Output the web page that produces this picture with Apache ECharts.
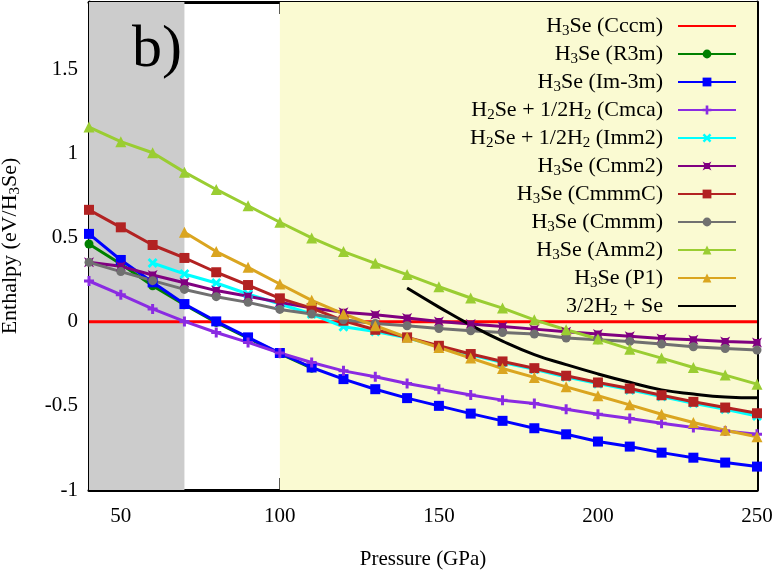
<!DOCTYPE html>
<html>
<head>
<meta charset="utf-8">
<script src="https://cdn.jsdelivr.net/npm/echarts@6/dist/echarts.min.js"></script>
<style>
  html, body { margin: 0; padding: 0; background: #fff; }
  #chartArea { width: 776px; height: 573px; }
</style>
</head>
<body>
<div id="chartArea"></div>
<script>
// pressures (GPa)
let pressure = [40, 50, 60, 70, 80, 90, 100, 110, 120, 130, 140, 150, 160, 170, 180, 190, 200, 210, 220, 230, 240, 250];

// enthalpies (eV/H3Se), null where the phase is not plotted
let cccm = [0, 0, 0, 0, 0, 0, 0, 0, 0, 0, 0, 0, 0, 0, 0, 0, 0, 0, 0, 0, 0, 0];
let r3m = [0.462, 0.343, 0.214, 0.101, -0.004, -0.097, -0.19, -0.276, null, null, null, null, null, null, null, null, null, null, null, null, null, null];
let im3m = [0.522, 0.367, 0.234, 0.105, 0.002, -0.093, -0.186, -0.272, -0.341, -0.401, -0.454, -0.5, -0.546, -0.589, -0.633, -0.669, -0.712, -0.742, -0.778, -0.808, -0.837, -0.861];
let cmca = [0.242, 0.161, 0.076, 0.002, -0.064, -0.123, -0.186, -0.242, -0.292, -0.327, -0.367, -0.401, -0.435, -0.466, -0.486, -0.52, -0.55, -0.575, -0.603, -0.629, -0.649, -0.668];
let imm2 = [null, null, 0.349, 0.284, 0.23, 0.165, 0.105, 0.046, -0.03, -0.058, -0.095, -0.148, -0.197, -0.242, -0.283, -0.328, -0.368, -0.405, -0.445, -0.485, -0.52, -0.56];
let cmm2 = [0.353, 0.329, 0.278, 0.232, 0.185, 0.151, 0.115, 0.081, 0.056, 0.042, 0.022, 0.002, -0.014, -0.028, -0.044, -0.06, -0.073, -0.087, -0.099, -0.107, -0.117, -0.123];
let cmmmC = [0.665, 0.561, 0.456, 0.379, 0.294, 0.218, 0.139, 0.081, 0.006, -0.048, -0.093, -0.143, -0.192, -0.236, -0.276, -0.321, -0.361, -0.397, -0.437, -0.476, -0.51, -0.544];
let cmmm = [0.353, 0.298, 0.244, 0.192, 0.149, 0.115, 0.073, 0.046, 0.012, -0.01, -0.024, -0.04, -0.054, -0.064, -0.073, -0.097, -0.107, -0.117, -0.133, -0.149, -0.159, -0.168];
let amm2 = [1.157, 1.07, 1.004, 0.889, 0.786, 0.689, 0.591, 0.498, 0.417, 0.347, 0.28, 0.208, 0.141, 0.081, 0.011, -0.048, -0.103, -0.163, -0.216, -0.272, -0.317, -0.371];
let p1 = [null, null, null, 0.532, 0.417, 0.323, 0.224, 0.127, 0.046, -0.024, -0.093, -0.153, -0.216, -0.278, -0.331, -0.387, -0.44, -0.494, -0.55, -0.599, -0.645, -0.683];

// 3/2H2 + Se reference curve
let elemPressure = [140, 150, 160, 170, 180, 190, 200, 210, 220, 230, 240, 250];
let elem = [0.2, 0.087, -0.02, -0.115, -0.195, -0.255, -0.31, -0.36, -0.405, -0.43, -0.447, -0.452];

let xTicks = [50, 100, 150, 200, 250];
let yTicks = [-1, -0.5, 0, 0.5, 1, 1.5];
let shadeGray = [40, 70];
let shadeYellow = [100, 250];

let serif = '"Liberation Serif", "DejaVu Serif", serif';
let plusPath = 'path://M3.5,0H6.5V3.5H10V6.5H6.5V10H3.5V6.5H0V3.5H3.5Z';
let crossPath = 'path://M0,2L2,0L5,3L8,0L10,2L7,5L10,8L8,10L5,7L2,10L0,8L3,5Z';
let starPath = 'path://M0,0L3,1.5H7L10,0L8.5,3V7L10,10L7,8.5H3L0,10L1.5,7V3Z';

function pairs(xs, ys) {
    let res = [];
    for (let i = 0; i < xs.length; i++) {
        if (ys[i] !== null) res.push([xs[i], ys[i]]);
    }
    return res;
}

function subText(name) {
    return '{n|' + name.replace(/H(\d)/g, 'H}{s|$1}{n|') + '}';
}

let richStyle = {
    n: {fontFamily: serif, fontSize: 22, color: '#000', lineHeight: 26},
    s: {fontFamily: serif, fontSize: 15, color: '#000', lineHeight: 14, verticalAlign: 'bottom'}
};

function mkSeries(name, ys, color, symbol, size) {
    return {
        name: name,
        type: 'line',
        data: pairs(pressure, ys),
        symbol: symbol,
        symbolSize: size,
        showAllSymbol: true,
        lineStyle: {color: color, width: 3},
        itemStyle: {color: color},
        emphasis: {disabled: true}
    };
}

let myChart = echarts.init(document.getElementById('chartArea'));

let series = [
    {
        name: 'H3Se (Cccm)',
        type: 'line',
        data: pairs(pressure, cccm),
        symbol: 'none',
        lineStyle: {color: '#ff0000', width: 3},
        itemStyle: {color: '#ff0000'},
        markArea: {
            silent: true,
            data: [
                [{xAxis: shadeGray[0], itemStyle: {color: '#cccccc'}}, {xAxis: shadeGray[1]}],
                [{xAxis: shadeYellow[0], itemStyle: {color: '#fafad2'}}, {xAxis: shadeYellow[1]}]
            ]
        }
    },
    mkSeries('H3Se (R3m)', r3m, '#008000', 'circle', 9),
    mkSeries('H3Se (Im-3m)', im3m, '#0000ff', 'rect', 10),
    mkSeries('H2Se + 1/2H2 (Cmca)', cmca, '#8a2be2', plusPath, 10),
    mkSeries('H2Se + 1/2H2 (Imm2)', imm2, '#00ffff', crossPath, 10),
    mkSeries('H3Se (Cmm2)', cmm2, '#800080', starPath, 10),
    mkSeries('H3Se (CmmmC)', cmmmC, '#b22222', 'rect', 10),
    mkSeries('H3Se (Cmmm)', cmmm, '#707070', 'circle', 9),
    mkSeries('H3Se (Amm2)', amm2, '#9acd32', 'triangle', 11),
    mkSeries('H3Se (P1)', p1, '#daa520', 'triangle', 11),
    {
        name: '3/2H2 + Se',
        type: 'line',
        data: pairs(elemPressure, elem),
        symbol: 'none',
        smooth: true,
        lineStyle: {color: '#000', width: 3},
        itemStyle: {color: '#000'}
    }
];

let axisBase = {
    axisLine: {show: true, onZero: false, lineStyle: {color: '#000', width: 3}},
    splitLine: {show: false}
};

let option = {
    animation: false,
    grid: {left: 89, right: 19, top: 2, bottom: 83, outerBoundsMode: 'none'},
    legend: {
        orient: 'vertical',
        right: 34,
        top: 10,
        align: 'right',
        itemWidth: 58,
        itemHeight: 11,
        itemGap: 4,
        selectedMode: false,
        data: series.map(function (s) {
            let item = {name: s.name};
            if (s.symbol === 'none') item.itemStyle = {opacity: 0};
            return item;
        }),
        formatter: subText,
        textStyle: {padding: [1, 10, 1, 0], rich: richStyle}
    },
    xAxis: [
        Object.assign({
            type: 'value', min: 40, max: 250, position: 'bottom',
            name: 'Pressure (GPa)', nameLocation: 'middle', nameGap: 59,
            nameTextStyle: {fontFamily: serif, fontSize: 21, color: '#000'},
            axisTick: {inside: true, length: 12, customValues: xTicks, lineStyle: {color: '#000', width: 2.5}},
            axisLabel: {customValues: xTicks, margin: 16, fontFamily: serif, fontSize: 21, color: '#000'}
        }, axisBase),
        Object.assign({
            type: 'value', min: 40, max: 250, position: 'top',
            axisTick: {inside: true, length: 12, customValues: xTicks, lineStyle: {color: '#000', width: 2.5}},
            axisLabel: {show: false}
        }, axisBase)
    ],
    yAxis: [
        Object.assign({
            type: 'value', min: -1, max: 1.9, position: 'left',
            name: subText('Enthalpy (eV/H3Se)'), nameLocation: 'middle', nameGap: 66, nameRotate: 90,
            nameTextStyle: {rich: richStyle},
            axisTick: {inside: true, length: 12, customValues: yTicks, lineStyle: {color: '#000', width: 2.5}},
            axisLabel: {customValues: yTicks, margin: 11, fontFamily: serif, fontSize: 21, color: '#000'}
        }, axisBase),
        Object.assign({
            type: 'value', min: -1, max: 1.9, position: 'right',
            axisTick: {inside: true, length: 12, customValues: yTicks, lineStyle: {color: '#000', width: 2.5}},
            axisLabel: {show: false}
        }, axisBase)
    ],
    graphic: [{
        type: 'text',
        left: 132,
        top: 20,
        z: 100,
        style: {text: 'b)', fontFamily: serif, fontSize: 60, fill: '#000'}
    }],
    series: series
};

myChart.setOption(option);
</script>
</body>
</html>
